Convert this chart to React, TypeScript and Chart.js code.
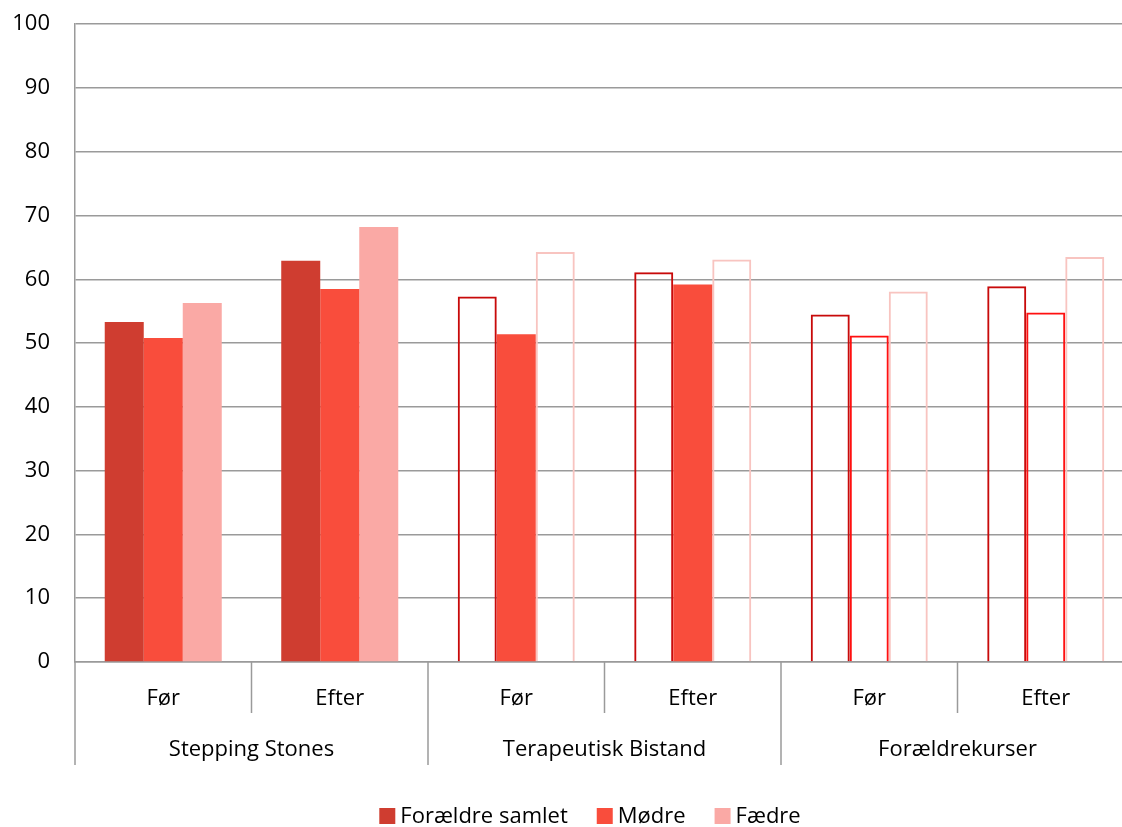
import React, { useEffect, useRef } from "react";
import { Chart, registerables } from "chart.js";

Chart.register(...registerables);

// Survey scores by programme and time point
const categories = ["Før", "Efter", "Før", "Efter", "Før", "Efter"];
const programs = ["Stepping Stones", "Terapeutisk Bistand", "Forældrekurser"];
const seriesNames = ["Forældre samlet", "Mødre", "Fædre"];
const foraeldreSamlet = [53.3, 62.9, 57.3, 61.1, 54.5, 58.9];
const moedre = [50.8, 58.5, 51.4, 59.2, 51.2, 54.8];
const faedre = [56.3, 68.2, 64.3, 63.1, 58.1, 63.5];
const yTicks = [0, 10, 20, 30, 40, 50, 60, 70, 80, 90, 100];

// which bars are solid (true) vs. outline-only (false)
const solidSamlet = [true, true, false, false, false, false];
const solidMoedre = [true, true, true, true, false, false];
const solidFaedre = [true, true, false, false, false, false];
const seriesFill = ["#cf3d30", "#f94d3c", "#faa9a5"];
const seriesOutline = ["#c80a0a", "#ff1010", "#f8c4c0"];

const FONT = "'Open Sans', 'Noto Sans', sans-serif";
const FONT_SIZE = 22;
const GRID = "#9a9a9a";
const LEGEND_CENTER_X = 590;

function styleFor(solid: boolean[], fill: string, outline: string) {
  return {
    backgroundColor: solid.map((s) => (s ? fill : "rgba(0,0,0,0)")),
    borderColor: solid.map((s) => (s ? fill : outline)),
    borderWidth: solid.map((s) => (s ? 0 : 2)),
  };
}

// two-level category axis plus the legend row underneath
const categoryAxisPlugin = {
  id: "categoryAxis",
  afterDraw(chart: any) {
    const { ctx, chartArea } = chart;
    const x = chart.scales.x;
    const step = x.getPixelForValue(1) - x.getPixelForValue(0);
    const base = chartArea.bottom;
    ctx.save();
    ctx.strokeStyle = GRID;
    ctx.lineWidth = 1.5;
    for (let i = 0; i <= categories.length; i++) {
      const px = x.getPixelForValue(0) - step / 2 + i * step;
      const long = i % 2 === 0;
      ctx.beginPath();
      ctx.moveTo(px, base);
      ctx.lineTo(px, base + (long ? 103 : 51));
      ctx.stroke();
    }
    ctx.fillStyle = "#000";
    ctx.font = `${FONT_SIZE}px ${FONT}`;
    ctx.textAlign = "center";
    ctx.textBaseline = "middle";
    categories.forEach((c, i) => {
      ctx.fillText(c, x.getPixelForValue(i), base + 37);
    });
    programs.forEach((p, j) => {
      const px = (x.getPixelForValue(2 * j) + x.getPixelForValue(2 * j + 1)) / 2;
      ctx.fillText(p, px, base + 88);
    });

    // legend
    const box = 16;
    const boxGap = 5;
    const itemGap = 29;
    const widths = seriesNames.map((n) => box + boxGap + ctx.measureText(n).width);
    const total = widths.reduce((a, b) => a + b, 0) + itemGap * (seriesNames.length - 1);
    let lx = LEGEND_CENTER_X - total / 2;
    const ly = base + 154;
    ctx.textAlign = "left";
    seriesNames.forEach((n, i) => {
      ctx.fillStyle = seriesFill[i];
      ctx.fillRect(lx, ly - box / 2, box, box);
      ctx.fillStyle = "#000";
      ctx.fillText(n, lx + box + boxGap, ly + 1);
      lx += widths[i] + itemGap;
    });
    ctx.restore();
  },
};

export default function App() {
  const ref = useRef<HTMLCanvasElement>(null);

  useEffect(() => {
    if (!ref.current) return;
    const chart = new Chart(ref.current, {
      type: "bar",
      data: {
        labels: categories,
        datasets: [
          { label: seriesNames[0], data: foraeldreSamlet, ...styleFor(solidSamlet, seriesFill[0], seriesOutline[0]) },
          { label: seriesNames[1], data: moedre, ...styleFor(solidMoedre, seriesFill[1], seriesOutline[1]) },
          { label: seriesNames[2], data: faedre, ...styleFor(solidFaedre, seriesFill[2], seriesOutline[2]) },
        ] as any,
      },
      options: {
        animation: false,
        responsive: false,
        devicePixelRatio: 1,
        layout: { padding: { top: 0, left: 10, right: 6, bottom: 0 } },
        datasets: {
          bar: { categoryPercentage: 0.663, barPercentage: 1, borderSkipped: "start" },
        },
        plugins: {
          legend: { display: false },
          tooltip: { enabled: false },
        },
        scales: {
          x: {
            grid: { display: false },
            border: { color: GRID, width: 1.5 },
            ticks: { display: false },
            afterFit: (scale: any) => {
              scale.height = 165;
            },
          },
          y: {
            min: 0,
            max: 100,
            afterBuildTicks: (scale: any) => {
              scale.ticks = yTicks.map((v) => ({ value: v }));
            },
            afterFit: (scale: any) => {
              scale.width = 65;
            },
            grid: { color: GRID, lineWidth: 1.5, drawTicks: false },
            border: { color: GRID, width: 1.5 },
            ticks: {
              font: { family: FONT, size: FONT_SIZE },
              color: "#000",
              padding: 25,
            },
          },
        },
      },
      plugins: [categoryAxisPlugin],
    });
    return () => chart.destroy();
  }, []);

  return (
    <div
      style={{
        position: "fixed",
        left: 0,
        top: 0,
        width: 1122,
        height: 827,
        overflow: "hidden",
        background: "#fff",
      }}
    >
      <canvas
        ref={ref}
        width={1140}
        height={841}
        style={{ display: "block", marginTop: -14 }}
      />
    </div>
  );
}
